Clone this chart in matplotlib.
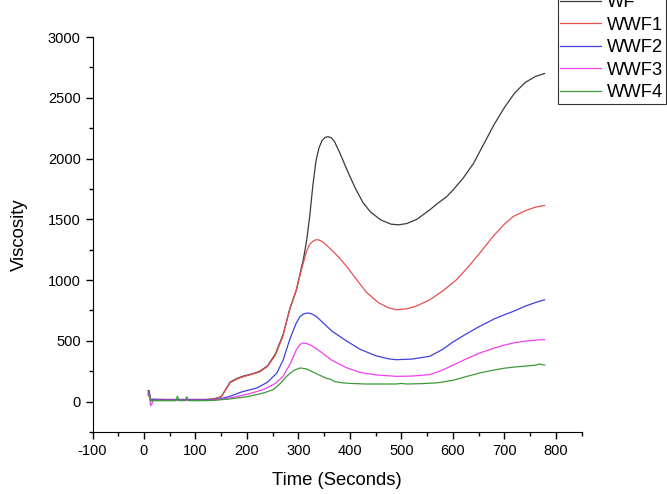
import matplotlib
matplotlib.use('Agg')
import matplotlib.pyplot as plt
from matplotlib.ticker import MultipleLocator

plt.rcParams['font.family'] = ['Liberation Sans', 'DejaVu Sans']
plt.rcParams['axes.unicode_minus'] = False

# viscosity curves (time in s)
t_wf = [8, 10, 13, 16, 40, 80, 120, 135, 150, 160, 167, 180, 193, 210, 225, 240, 255, 270, 283, 296,
        303, 310, 316, 322, 328, 334, 340, 346, 352, 358, 364, 370, 380, 395, 410, 425, 440, 460, 480, 495, 510,
        530, 555, 570, 588, 600, 620, 640, 660, 680, 700, 720, 740, 760, 778]
v_wf = [90, 90, 15, 20, 18, 18, 18, 22, 40, 110, 160, 190, 210, 228, 250, 295, 390, 550, 760, 920,
        1050, 1180, 1330, 1530, 1780, 1980, 2090, 2150, 2175, 2180, 2170, 2140, 2050, 1900, 1760, 1640, 1560, 1495, 1460, 1455, 1465,
        1500, 1578, 1630, 1687, 1740, 1840, 1960, 2120, 2280, 2420, 2540, 2625, 2675, 2700]

t_wwf1 = [8, 10, 13, 16, 40, 80, 120, 135, 150, 160, 167, 180, 193, 210, 225, 240, 255, 270, 283, 296,
          303, 310, 316, 322, 328, 334, 340, 347, 355, 365, 380, 395, 410, 432, 455, 475, 490, 510, 530, 555, 580, 607, 630,
          652, 680, 700, 717, 740, 760, 778]
v_wwf1 = [80, 80, 12, 16, 16, 16, 16, 20, 40, 105, 155, 185, 205, 225, 245, 290, 380, 540, 760, 920,
          1040, 1150, 1240, 1295, 1320, 1332, 1330, 1315, 1285, 1245, 1180, 1105, 1020, 900, 815, 772, 756, 763, 788, 838, 910, 1003, 1110,
          1222, 1370, 1460, 1523, 1570, 1600, 1614]

t_wwf2 = [8, 10, 13, 16, 40, 80, 120, 140, 150, 167, 190, 219, 240, 258, 270, 283, 295, 303, 311, 319,
          327, 335, 345, 365, 393, 420, 450, 475, 490, 520, 555, 580, 600, 625, 652, 680, 700, 717, 740, 760, 778]
v_wwf2 = [70, 70, 10, 14, 14, 14, 14, 18, 25, 44, 80, 112, 160, 235, 340, 510, 640, 700, 724, 729,
          720, 700, 660, 580, 500, 430, 378, 352, 345, 350, 373, 430, 490, 555, 619, 680, 715, 742, 785, 815, 838]

t_wwf3 = [8, 10, 13, 18, 40, 80, 120, 140, 167, 200, 232, 255, 270, 285, 296, 303, 309, 316, 325, 340, 365,
          393, 420, 450, 490, 520, 555, 580, 600, 625, 652, 680, 700, 720, 740, 760, 778]
v_wwf3 = [60, 60, -35, 10, 10, 10, 10, 15, 30, 60, 99, 150, 208, 320, 427, 470, 482, 478, 462, 420, 340,
          280, 240, 220, 208, 210, 222, 260, 300, 350, 400, 440, 465, 485, 498, 506, 510]

t_wwf4 = [8, 10, 13, 16, 40, 62, 65, 68, 80, 83, 86, 100, 120, 140, 167, 200, 219, 235, 251, 265,
          277, 290, 303, 315, 330, 345, 355, 362, 370, 385, 400, 430, 460, 490, 500, 510, 540, 570, 600,
          625, 652, 680, 700, 720, 740, 760, 768, 772, 778]
v_wwf4 = [50, 50, 5, 8, 8, 8, 45, 8, 8, 40, 8, 8, 8, 12, 22, 40, 58, 75, 99, 150,
          208, 255, 277, 270, 240, 210, 190, 185, 165, 155, 150, 145, 145, 145, 150, 145, 148, 155, 175,
          205, 236, 260, 275, 285, 292, 300, 310, 305, 300]

fig = plt.figure(figsize=(6.67, 4.94), dpi=100)
ax = fig.add_axes([0.1387, 0.1255, 0.7333, 0.7995])

ax.plot(t_wf, v_wf, color='#3a3a3a', lw=0.9, label='WF')
ax.plot(t_wwf1, v_wwf1, color='#e8504f', lw=0.9, label='WWF1')
ax.plot(t_wwf2, v_wwf2, color='#4040e0', lw=0.9, label='WWF2')
ax.plot(t_wwf3, v_wwf3, color='#f040f0', lw=0.9, label='WWF3')
ax.plot(t_wwf4, v_wwf4, color='#3c9a3c', lw=0.9, label='WWF4')

ax.set_xlim(-100, 850)
ax.set_ylim(-250, 3000)
ax.xaxis.set_major_locator(MultipleLocator(100))
ax.xaxis.set_minor_locator(MultipleLocator(50))
ax.yaxis.set_major_locator(MultipleLocator(500))
ax.yaxis.set_minor_locator(MultipleLocator(250))
ax.spines['top'].set_visible(False)
ax.spines['right'].set_visible(False)
ax.tick_params(which='both', direction='out', labelsize=10.5, width=1)
ax.tick_params(which='major', length=5)
ax.tick_params(which='minor', length=3)

ax.set_xlabel('Time (Seconds)', fontsize=13.3, labelpad=10)
ax.set_ylabel('Viscosity', fontsize=13.3, labelpad=14)

leg = fig.legend(loc='lower right', bbox_to_anchor=(666 / 667, 1 - 104 / 494),
                 bbox_transform=fig.transFigure, fontsize=13.2, frameon=True, fancybox=False,
                 edgecolor='black', handlelength=2.2, handletextpad=0.35, labelspacing=0.3,
                 borderpad=0.15, borderaxespad=0)
leg.get_frame().set_linewidth(0.8)

fig.savefig('out.png', dpi=100)
